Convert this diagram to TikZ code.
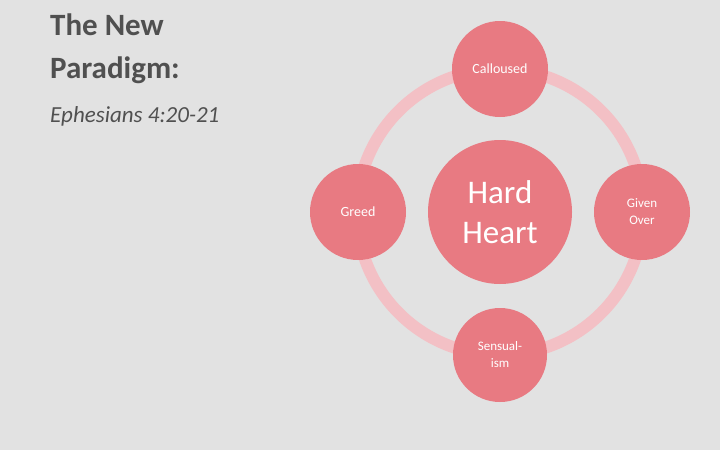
\documentclass[tikz,border=0pt]{standalone}
\usepackage{fontspec}
\setmainfont{Carlito}
\definecolor{bg}{RGB}{226,226,226}
\definecolor{pk}{RGB}{232,122,130}
\definecolor{ring}{RGB}{243,192,197}
\definecolor{tx}{RGB}{80,80,80}
\begin{document}
\begin{tikzpicture}[x=1pt,y=-1pt,
  bub/.style={circle,fill=pk,text=white,align=center,inner sep=0pt}]
\fill[bg] (0,0) rectangle (720,450);
\useasboundingbox (0,0) rectangle (720,450);
\draw[ring,line width=12] (500,212) circle[radius=143];
\node[bub,minimum size=96,font=\fontsize{14}{16}\selectfont] (top) at (500,69) {Calloused};
\node[bub,minimum size=96,font=\fontsize{14}{16}\selectfont] (left) at (358,212) {Greed};
\node[bub,minimum size=96,font=\fontsize{13}{17}\selectfont] (right) at (642,212) {Given\\Over};
\node[bub,minimum size=94,font=\fontsize{13}{17}\selectfont] (bot) at (500,355) {Sensual-\\ism};
\node[bub,minimum size=144,font=\fontsize{33}{40}\selectfont] (ctr) at (500,212) {Hard\\Heart};
\node[anchor=north west,align=left,text=tx,font=\bfseries\fontsize{31}{43}\selectfont,inner sep=0pt] (title) at (50,14)
  {The New\\Paradigm:};
\node[anchor=west,text=tx,font=\itshape\fontsize{23}{28}\selectfont,inner sep=0pt] (sub) at (50,116)
  {Ephesians 4:20-21};
\end{tikzpicture}
\end{document}
